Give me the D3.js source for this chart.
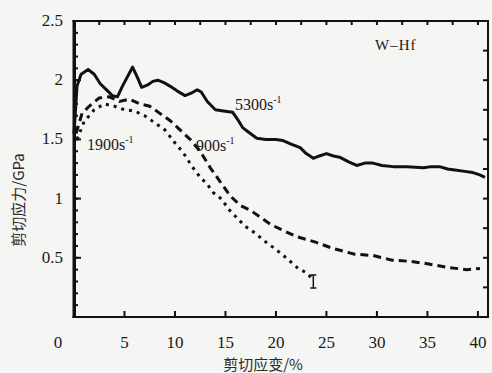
<!DOCTYPE html>
<html>
<head>
<meta charset="utf-8">
<script src="https://cdn.jsdelivr.net/npm/d3@7"></script>
</head>
<body style="margin:0;background:#f5f5f3">
<div id="chart"></div>
<script>
// ---- Data (strain %, shear stress GPa)
const xTicks = [0, 5, 10, 15, 20, 25, 30, 35, 40];
const yTicks = [0.5, 1, 1.5, 2, 2.5];

const strain5300 = [0, 0.3, 0.7, 1.4, 2.0, 2.6, 3.2, 3.8, 4.3, 4.8, 5.3, 5.8, 6.3, 6.7, 7.3, 7.8, 8.3, 8.9, 9.5, 10.2, 11, 11.6, 12.2, 12.6, 13.2, 14, 14.8, 15.7, 16.2, 16.7, 17.3, 18.1, 19, 20, 20.7, 21.5, 22.4, 23, 23.7, 24.3, 25, 25.7, 26.3, 27.2, 28, 28.8, 29.6, 30.5, 31.6, 33, 34.6, 35.4, 36.2, 37, 37.9, 38.7, 39.5, 40.2, 40.7];
const stress5300 = [1.55, 1.95, 2.05, 2.09, 2.05, 1.97, 1.92, 1.87, 1.86, 1.95, 2.03, 2.11, 2.02, 1.94, 1.96, 1.99, 2.0, 1.98, 1.95, 1.91, 1.87, 1.89, 1.92, 1.9, 1.82, 1.75, 1.74, 1.73, 1.67, 1.6, 1.56, 1.51, 1.5, 1.5, 1.49, 1.46, 1.43, 1.38, 1.34, 1.36, 1.38, 1.36, 1.35, 1.31, 1.28, 1.3, 1.3, 1.28, 1.27, 1.27, 1.26, 1.27, 1.27, 1.25, 1.24, 1.23, 1.22, 1.2, 1.18];

const strain1900 = [0.2, 0.8, 1.5, 2.5, 3.5, 4.5, 5.5, 6.5, 7.5, 8.5, 9.5, 10.5, 11.5, 12.5, 13.5, 14.5, 15.5, 16.5, 17.5, 18.5, 19.5, 20.5, 22, 24, 25.6, 27.8, 29.6, 31.5, 33.3, 35, 36.9, 38.9, 40.2];
const stress1900 = [1.55, 1.72, 1.78, 1.85, 1.86, 1.82, 1.84, 1.8, 1.78, 1.72, 1.66, 1.58, 1.5, 1.4, 1.26, 1.14, 1.02, 0.94, 0.9, 0.84, 0.78, 0.74, 0.68, 0.63, 0.58, 0.53, 0.52, 0.48, 0.47, 0.45, 0.42, 0.4, 0.41];

const strain900 = [0.3, 1, 2, 3, 4, 5, 6, 7, 8, 9, 10, 10.8, 11.7, 12.5, 13.2, 13.8, 14.7, 15.2, 16.1, 16.9, 17.9, 18.9, 20, 21, 22.2, 23.1, 23.6];
const stress900 = [1.5, 1.65, 1.75, 1.8, 1.78, 1.75, 1.74, 1.7, 1.64, 1.58, 1.47, 1.39, 1.27, 1.18, 1.12, 1.05, 0.99, 0.92, 0.84, 0.77, 0.71, 0.64, 0.57, 0.5, 0.41, 0.37, 0.32];

const errStrain = 23.7;
const errLow = 0.245;
const errHigh = 0.355;

const W = 492, H = 373;
const ink = '#111';

const svg = d3.select('#chart').append('svg')
    .attr('width', W).attr('height', H);

// ---- Scales
const mapX = d3.scaleLinear().domain([0, 41]).range([74, 488]);
const mapY = d3.scaleLinear().domain([0, 2.5]).range([317, 21]);

// ---- Curves
const lineGen = d3.line().x(d => mapX(d[0])).y(d => mapY(d[1]));

svg.append('path')
    .datum(d3.zip(strain5300, stress5300))
    .attr('d', lineGen)
    .attr('fill', 'none').attr('stroke', ink).attr('stroke-width', 3)
    .attr('stroke-linejoin', 'round');

svg.append('path')
    .datum(d3.zip(strain1900, stress1900))
    .attr('d', lineGen)
    .attr('fill', 'none').attr('stroke', ink).attr('stroke-width', 3)
    .attr('stroke-dasharray', '8 5');

svg.append('path')
    .datum(d3.zip(strain900, stress900))
    .attr('d', lineGen)
    .attr('fill', 'none').attr('stroke', ink).attr('stroke-width', 3)
    .attr('stroke-dasharray', '3 5');

// ---- Error bar at the end of the short curve
const eg = svg.append('g').attr('stroke', ink).attr('stroke-width', 1.5);
eg.append('line')
    .attr('x1', mapX(errStrain)).attr('x2', mapX(errStrain))
    .attr('y1', mapY(errLow)).attr('y2', mapY(errHigh));
eg.selectAll('.cap').data([errLow, errHigh]).join('line')
    .attr('class', 'cap')
    .attr('x1', mapX(errStrain) - 3).attr('x2', mapX(errStrain) + 3)
    .attr('y1', d => mapY(d)).attr('y2', d => mapY(d));

// ---- Frame as filled bars (sides) and filled tick bars, on top of the curves
const x0 = mapX(0), x1 = mapX(41), y0 = mapY(0), y1 = mapY(2.5);
const frame = svg.append('g').attr('fill', ink);
frame.append('rect').attr('x', x0 - 1.5).attr('y', y1 - 1).attr('width', 3.5).attr('height', y0 - y1 + 2); // left
frame.append('rect').attr('x', x1 - 1).attr('y', y1 - 1).attr('width', 2).attr('height', y0 - y1 + 2);     // right
frame.append('rect').attr('x', x0 - 1.5).attr('y', y0 - 1).attr('width', x1 - x0 + 2.5).attr('height', 2); // bottom
frame.append('rect').attr('x', x0 - 1.5).attr('y', y1 - 1).attr('width', x1 - x0 + 2.5).attr('height', 2); // top

frame.selectAll('.tb').data(xTicks.slice(1)).join('rect')
    .attr('class', 'tb')
    .attr('x', d => mapX(d) - 1).attr('y', y0 - 6).attr('width', 2).attr('height', 6);
frame.selectAll('.tt').data(d3.range(2.5, 41, 2.5)).join('rect')
    .attr('class', 'tt')
    .attr('x', d => mapX(d) - 1).attr('y', y1).attr('width', 2).attr('height', 4);
frame.selectAll('.tl').data(d3.range(0.1, 2.5, 0.1)).join('rect')
    .attr('class', 'tl')
    .attr('x', x0).attr('y', d => mapY(d) - 1).attr('width', 4).attr('height', 2);
frame.selectAll('.tlm').data(yTicks).join('rect')
    .attr('class', 'tlm')
    .attr('x', x0).attr('y', d => mapY(d) - 1).attr('width', 7).attr('height', 2);
frame.selectAll('.tr').data(d3.range(0.25, 2.5, 0.25)).join('rect')
    .attr('class', 'tr')
    .attr('x', x1 - 5).attr('y', d => mapY(d) - 1).attr('width', 5).attr('height', 2);

// ---- Tick labels
svg.selectAll('.xlab').data(xTicks).join('text')
    .attr('class', 'xlab')
    .attr('x', d => d === 0 ? mapX(d) - 16 : mapX(d))
    .attr('y', 348)
    .attr('text-anchor', 'middle')
    .attr('font-family', 'Liberation Serif').attr('font-size', 17).attr('fill', '#1a1a1a')
    .text(d => d);

svg.selectAll('.ylab').data(yTicks).join('text')
    .attr('class', 'ylab')
    .attr('x', 63)
    .attr('y', d => mapY(d) + 5)
    .attr('text-anchor', 'end')
    .attr('font-family', 'Liberation Serif').attr('font-size', 17).attr('fill', '#1a1a1a')
    .text(d => d);

// ---- Axis titles
svg.append('text')
    .attr('x', 263).attr('y', 370)
    .attr('text-anchor', 'middle')
    .attr('font-family', 'Noto Sans CJK SC').attr('font-size', 15).attr('fill', '#2a2a2a')
    .text('剪切应变/%');

svg.append('text')
    .attr('transform', 'translate(24, 200) rotate(-90)')
    .attr('text-anchor', 'middle')
    .attr('font-family', 'Noto Sans CJK SC').attr('font-size', 15).attr('fill', '#2a2a2a')
    .text('剪切应力/GPa');

// ---- Annotations
function rateLabel(x, y, value) {
    const t = svg.append('text').attr('x', x).attr('y', y)
        .attr('font-family', 'Liberation Serif').attr('font-size', 16).attr('fill', '#1a1a1a');
    t.append('tspan').text(value + 's');
    t.append('tspan').attr('font-size', 10).attr('dy', -7).text('-1');
}
rateLabel(87, 150, '1900');
rateLabel(196, 151, '900');
rateLabel(235, 110, '5300');

svg.append('text')
    .attr('x', 375).attr('y', 50)
    .attr('font-family', 'Liberation Serif').attr('font-size', 15).attr('fill', '#1a1a1a')
    .attr('letter-spacing', 1)
    .text('W\u2013Hf');
</script>
</body>
</html>
